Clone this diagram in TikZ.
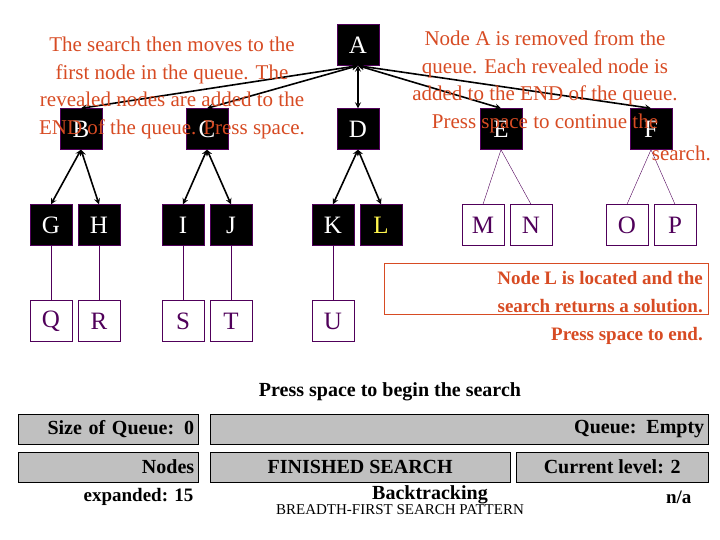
\documentclass[tikz,border=0pt]{standalone}
\usepackage{fontspec}
\setmainfont{Liberation Serif}
\definecolor{rd}{RGB}{215,75,35}
\definecolor{pu}{RGB}{80,0,90}
\definecolor{gr}{RGB}{192,192,192}
\begin{document}
\begin{tikzpicture}[x=1pt,y=-1pt,
 bk/.style={draw=pu,fill=black,text=white,minimum width=42pt,minimum height=41pt,inner sep=0pt,font=\fontsize{25}{25}\selectfont},
 wh/.style={draw=pu,fill=white,text=pu,minimum width=42pt,minimum height=41pt,inner sep=0pt,font=\fontsize{25}{25}\selectfont},
 ar/.style={line width=1.6pt,<->,>=stealth},
 ln/.style={draw=pu,thin},
 rt/.style={text=rd,font=\fontsize{21}{27.5}\selectfont,inner sep=0pt},
 gb/.style={draw=black,fill=gr,minimum height=30pt,inner sep=3pt,font=\bfseries\fontsize{20}{20}\selectfont}]
\useasboundingbox (0,0) rectangle (720,540);
% top row
\node[bk] (A) at (358,45) {A};
\node[bk] (B) at (81,129) {B};
\node[bk] (C) at (207,129) {C};
\node[bk] (D) at (358,129) {D};
\node[bk] (E) at (501,129) {E};
\node[bk] (F) at (651,129) {F};
% second row
\node[bk] (G) at (51,225) {G};
\node[bk] (H) at (99,225) {H};
\node[bk] (I) at (183,225) {I};
\node[bk] (J) at (231,225) {J};
\node[bk] (K) at (333,225) {K};
\node[bk,text=yellow!70] (L) at (381,225) {L};
\node[wh] (M) at (483,225) {M};
\node[wh] (N) at (531,225) {N};
\node[wh] (O) at (627,225) {O};
\node[wh] (P) at (675,225) {P};
% third row
\node[wh] (Q) at (51,321) {Q};
\node[wh] (R) at (99,321) {R};
\node[wh] (S) at (183,321) {S};
\node[wh] (T) at (231,321) {T};
\node[wh] (U) at (333,321) {U};
% edges
\foreach \t in {B,C,D,E,F} \draw[ar] (A.south) -- (\t.north);
\draw[ar] (B.south) -- (G.north); \draw[ar] (B.south) -- (H.north);
\draw[ar] (C.south) -- (I.north); \draw[ar] (C.south) -- (J.north);
\draw[ar] (D.south) -- (K.north); \draw[ar] (D.south) -- (L.north);
\draw[ln] (E.south) -- (M.north); \draw[ln] (E.south) -- (N.north);
\draw[ln] (F.south) -- (O.north); \draw[ln] (F.south) -- (P.north);
\foreach \a/\b in {G/Q,H/R,I/S,J/T,K/U} \draw[ln] (\a.south) -- (\b.north);
% left red text
\node[rt,align=center] (t1) at (172,88) {The search then moves to the\\first node in the queue. The\\revealed nodes are added to the\\END of the queue. Press space.};
% right red text
\node[rt,align=center] (t4) at (545,82) {Node A is removed from the\\queue. Each revealed node is\\added to the END of the queue.\\Press space to continue the};
\node[rt,anchor=east] (t6) at (711,153) {search.};
% solution box
\node[draw=rd,minimum width=324pt,minimum height=51pt] (sb) at (546,289) {};
\node[rt,align=right,anchor=north east,font=\bfseries\fontsize{19}{28}\selectfont] (t7) at (703,271) {Node L is located and the\\search returns a solution.\\Press space to end.};
% bottom
\node[font=\bfseries\fontsize{20}{20}\selectfont] (ps) at (390,392) {Press space to begin the search};
\node[gb,minimum width=180pt,anchor=west,align=right,text width=172pt] (q1) at (18,429) {Size of Queue: 0};
\node[gb,minimum width=498pt,anchor=west,align=right,text width=490pt] (q2) at (210,429) {Queue: Empty};
\node[gb,minimum width=180pt,anchor=west,align=right,text width=172pt] (n1) at (18,467) {Nodes};
\node[gb,minimum width=300pt,anchor=west] (n2) at (210,467) {FINISHED SEARCH};
\node[gb,minimum width=192pt,anchor=west] (n3) at (516,467) {Current level: 2};
\node[font=\bfseries\fontsize{19}{19}\selectfont,anchor=east] (ex) at (197,497) {expanded: 15};
\node[font=\bfseries\fontsize{20}{20}\selectfont] (bt) at (430,495) {Backtracking};
\node[font=\bfseries\fontsize{19}{19}\selectfont,anchor=east] (na) at (695,497) {n/a};
\node[font=\fontsize{15}{15}\selectfont] (bf) at (400,510) {BREADTH-FIRST SEARCH PATTERN};
\end{tikzpicture}
\end{document}
